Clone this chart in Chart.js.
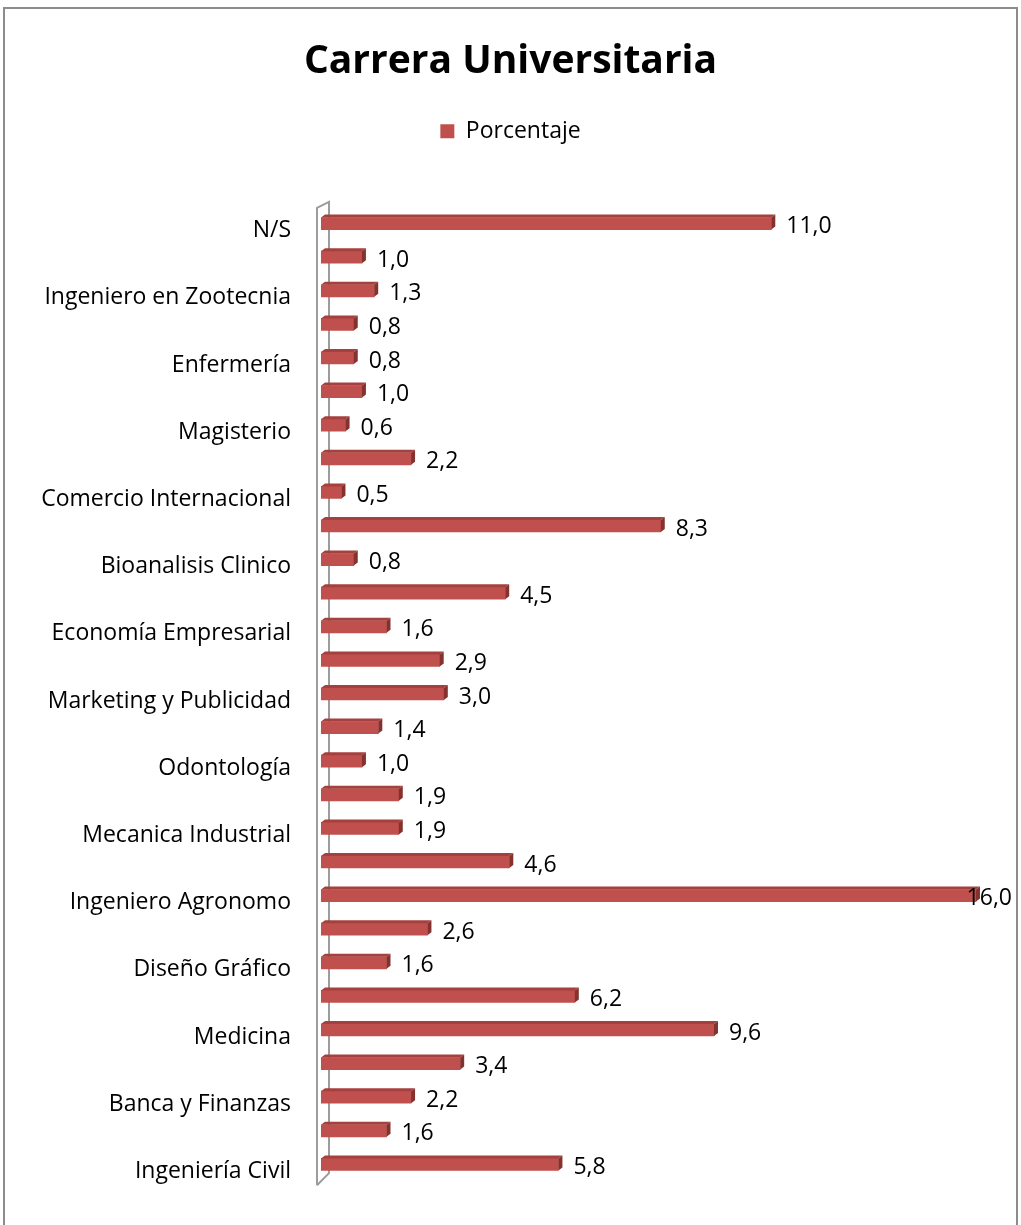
<!DOCTYPE html>
<html>
<head>
<meta charset="utf-8">
<script src="https://cdn.jsdelivr.net/npm/chart.js@4.4.0/dist/chart.umd.min.js"></script>
<style>
  body { margin: 0; background: #fff; }
  #wrap { width: 1021px; height: 1225px; position: relative; }
</style>
</head>
<body>
<div id="wrap"><canvas id="careerChart"></canvas></div>
<script>
const chartTitle = 'Carrera Universitaria';
const seriesName = 'Porcentaje';
// only every other category name is printed in the original chart
const categories = [
  'N/S', '', 'Ingeniero en Zootecnia', '', 'Enfermería', '', 'Magisterio', '',
  'Comercio Internacional', '', 'Bioanalisis Clinico', '', 'Economía Empresarial', '',
  'Marketing y Publicidad', '', 'Odontología', '', 'Mecanica Industrial', '',
  'Ingeniero Agronomo', '', 'Diseño Gráfico', '', 'Medicina', '', 'Banca y Finanzas', '',
  'Ingeniería Civil'
];
const percentages = [
  11.0, 1.0, 1.3, 0.8, 0.8, 1.0, 0.6, 2.2, 0.5, 8.3, 0.8, 4.5, 1.6, 2.9, 3.0,
  1.4, 1.0, 1.9, 1.9, 4.6, 16.0, 2.6, 1.6, 6.2, 9.6, 3.4, 2.2, 1.6, 5.8
];

const barColor = '#C0504D';
const fontFamily = '"Open Sans", Calibri, sans-serif';

// border, 3d wall, 3d bar faces and value labels
const bar3d = {
  id: 'bar3d',
  beforeInit(chart) {
    const fit = chart.legend.fit;
    chart.legend.fit = function () {
      fit.call(this);
      this.height += 54;
    };
  },
  beforeDraw(chart) {
    const ctx = chart.ctx;
    ctx.save();
    ctx.strokeStyle = '#8c8c8c';
    ctx.lineWidth = 2;
    ctx.strokeRect(4, 8, 1013, 1400);
    ctx.restore();
  },
  beforeDatasetsDraw(chart) {
    const ctx = chart.ctx;
    const a = chart.chartArea;
    ctx.save();
    ctx.strokeStyle = '#9c9c9c';
    ctx.lineWidth = 2;
    ctx.beginPath();
    ctx.moveTo(a.left - 4, a.bottom + 4);
    ctx.lineTo(a.left - 4, a.top + 1);
    ctx.lineTo(a.left + 8, a.top - 5);
    ctx.lineTo(a.left + 8, a.bottom - 8);
    ctx.lineTo(a.left - 4, a.bottom + 4);
    ctx.stroke();
    ctx.restore();
  },
  afterDatasetsDraw(chart) {
    const ctx = chart.ctx;
    const meta = chart.getDatasetMeta(0);
    const dx = 4, dy = 3;
    ctx.save();
    ctx.font = '23px ' + fontFamily;
    ctx.textBaseline = 'middle';
    meta.data.forEach((bar, i) => {
      const left = bar.base, right = bar.x;
      const top = bar.y - bar.height / 2, bottom = bar.y + bar.height / 2;
      ctx.fillStyle = '#A4413E';
      ctx.beginPath();
      ctx.moveTo(left, top);
      ctx.lineTo(left + dx, top - dy);
      ctx.lineTo(right + dx, top - dy);
      ctx.lineTo(right, top);
      ctx.closePath();
      ctx.fill();
      ctx.fillStyle = '#85322F';
      ctx.beginPath();
      ctx.moveTo(right, top);
      ctx.lineTo(right + dx, top - dy);
      ctx.lineTo(right + dx, bottom - dy);
      ctx.lineTo(right, bottom);
      ctx.closePath();
      ctx.fill();

      const txt = percentages[i].toFixed(1).replace('.', ',');
      const w = ctx.measureText(txt).width;
      let x = right + 15;
      if (x + w > 1012) x = 1012 - w;
      ctx.fillStyle = '#000';
      ctx.fillText(txt, x, bar.y + 3);
    });
    ctx.restore();
  }
};

const ctx = document.getElementById('careerChart').getContext('2d');
new Chart(ctx, {
  type: 'bar',
  data: {
    labels: categories,
    datasets: [{
      label: seriesName,
      data: percentages,
      backgroundColor: barColor,
      borderColor: barColor,
      borderWidth: 0,
      barThickness: 12
    }]
  },
  options: {
    indexAxis: 'y',
    responsive: true,
    maintainAspectRatio: false,
    animation: false,
    layout: { padding: { left: 0, right: 0, top: 0, bottom: 40 } },
    plugins: {
      title: {
        display: true,
        text: chartTitle,
        color: '#000',
        font: { family: fontFamily, size: 39, weight: 'bold' },
        padding: { top: 38, bottom: 25 }
      },
      legend: {
        display: true,
        position: 'top',
        labels: {
          color: '#000',
          font: { family: fontFamily, size: 23 },
          boxWidth: 14,
          boxHeight: 14,
          padding: 10
        }
      },
      tooltip: { enabled: false }
    },
    scales: {
      x: { display: false, min: 0, max: 17.1 },
      y: {
        grid: { display: false, drawTicks: false },
        border: { display: false },
        ticks: {
          color: '#000',
          font: { family: fontFamily, size: 23 },
          padding: 30,
          labelOffset: 7,
          autoSkip: false
        },
        afterFit(scale) { scale.width = 321; }
      }
    }
  },
  plugins: [bar3d]
});
</script>
</body>
</html>
